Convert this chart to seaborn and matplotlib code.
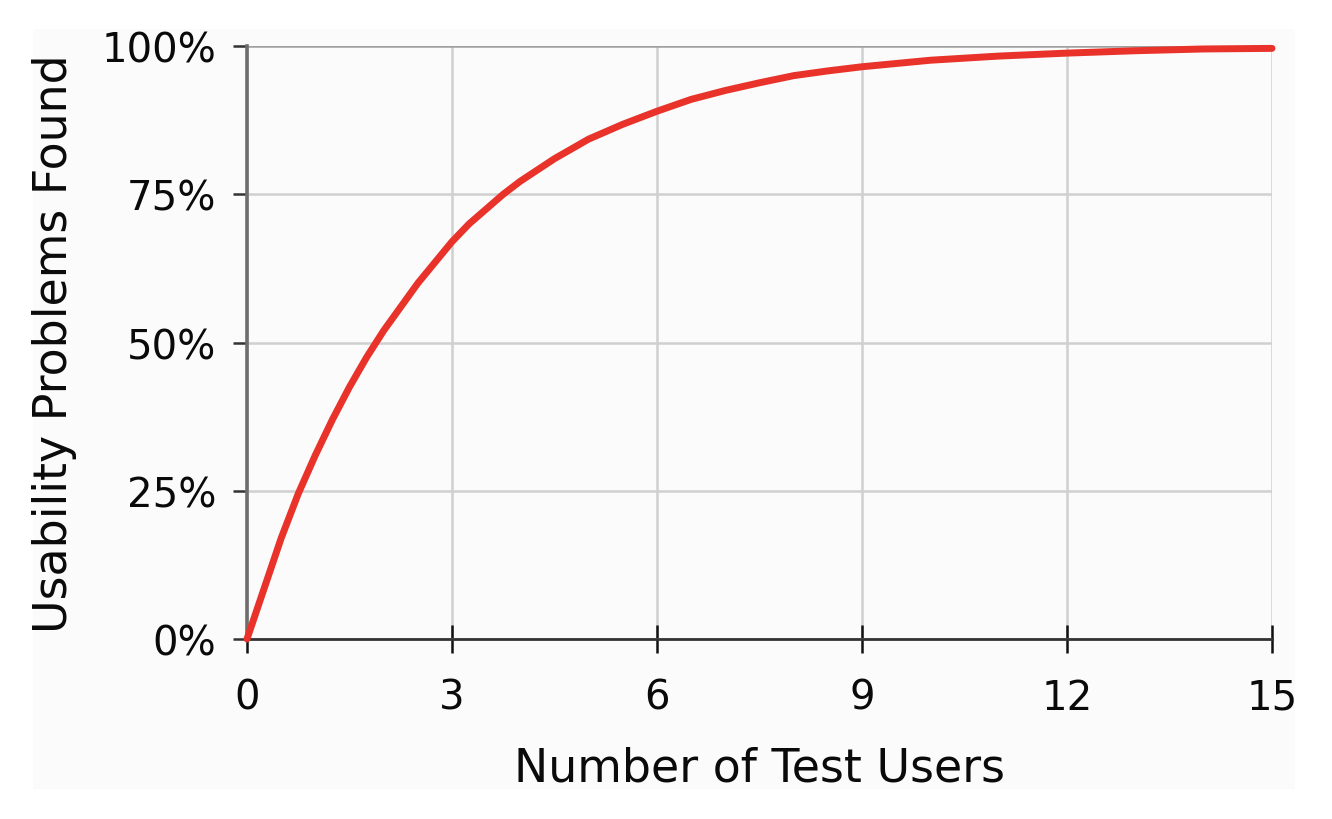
import numpy as np
import pandas as pd
import matplotlib
matplotlib.use("Agg")
import matplotlib.pyplot as plt
from matplotlib.patches import Rectangle
from matplotlib.ticker import PercentFormatter
import seaborn as sns

# values
users = [0, 0.25, 0.5, 0.75, 1, 1.25, 1.5, 1.75, 2, 2.25, 2.5, 2.75, 3, 3.25, 3.5, 3.75,
         4, 4.5, 5, 5.5, 6, 6.5, 7, 7.5, 8, 8.5, 9, 10, 11, 12, 13, 14, 15]
found = [0, 8.5, 17, 24.5, 31, 37, 42.5, 47.5, 52, 56, 60, 63.5, 67, 70, 72.5, 75,
         77.2, 81, 84.3, 86.8, 89, 91, 92.5, 93.8, 95, 95.8, 96.5, 97.6, 98.3, 98.8, 99.2, 99.5, 99.6]
x_ticks = [0, 3, 6, 9, 12, 15]
y_ticks = [0, 25, 50, 75, 100]

df = pd.DataFrame({"users": users, "found": found})

sns.set_theme(style="white")
plt.rcParams["font.family"] = ["DejaVu Sans"]

bg = "#fafbfa"
fig = plt.figure(figsize=(13.32, 8.2), dpi=100)
fig.patch.set_facecolor("white")
fig.patches.append(Rectangle((33 / 1332, 30 / 820), 1262 / 1332, 760 / 820,
                             transform=fig.transFigure, facecolor=bg,
                             edgecolor="none", zorder=-10))
ax = fig.add_axes([247 / 1332, 180 / 820, 1025 / 1332, 593 / 820])
ax.set_facecolor(bg)

sns.lineplot(data=df, x="users", y="found", ax=ax, color="#e8322a",
             linewidth=5, zorder=5, clip_on=False)

ax.set_xlim(0, 15)
ax.set_ylim(0, 100)
ax.set_xticks(x_ticks)
ax.set_yticks(y_ticks)
ax.yaxis.set_major_formatter(PercentFormatter(decimals=0))

ax.grid(True, color="#d0d0d0", linewidth=1.8)
ax.yaxis.get_gridlines()[-1].set_color("#a0a0a0")
for side in ["top", "right"]:
    ax.spines[side].set_visible(False)
ax.spines["left"].set_color("#6e6e6e")
ax.spines["left"].set_linewidth(2.6)
ax.spines["bottom"].set_color("#333333")
ax.spines["bottom"].set_linewidth(2.0)

ax.tick_params(axis="y", direction="out", length=10, width=1.8, color="#333333",
               pad=12, labelsize=29, labelcolor="#0a0a0a", left=True)
ax.tick_params(axis="x", direction="inout", length=20, width=1.8, color="#111111",
               pad=18, labelsize=29, labelcolor="#0a0a0a", bottom=True)

ax.set_xlabel("Number of Test Users", fontsize=33, color="#0a0a0a", labelpad=20)
ax.set_ylabel("Usability Problems Found", fontsize=33, color="#0a0a0a", labelpad=18)

fig.savefig("out.png", dpi=100, facecolor="white")
